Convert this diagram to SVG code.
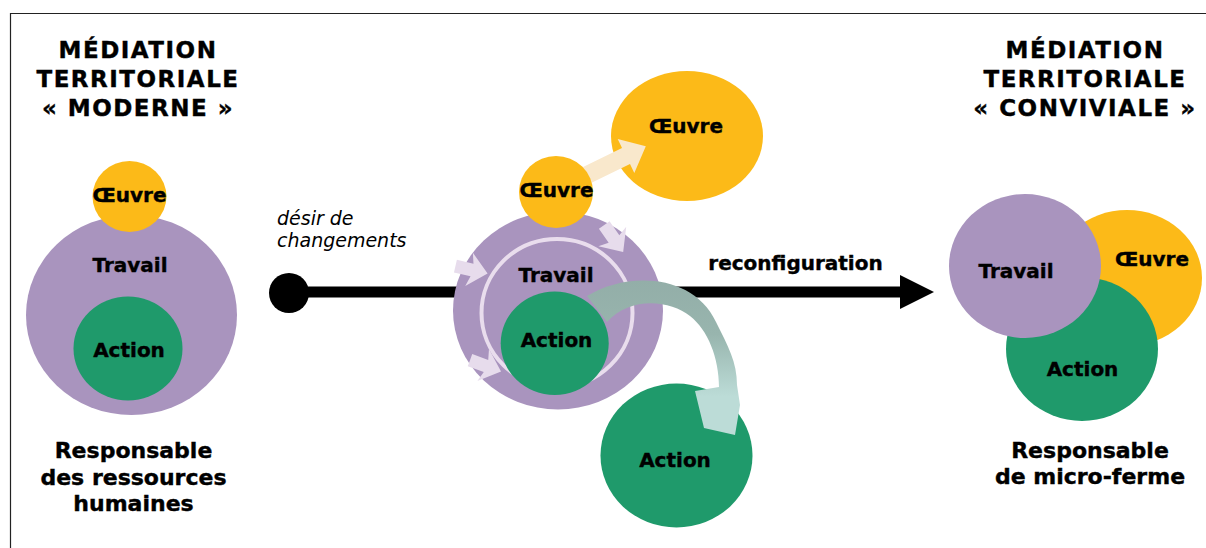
<svg xmlns="http://www.w3.org/2000/svg" width="1206" height="548" viewBox="0 0 1206 548">
<defs>
<style>
.t{font-family:"DejaVu Sans","Liberation Sans",sans-serif;font-weight:bold;fill:#000;stroke:#000;stroke-width:0.4px;text-anchor:middle}
.lbl{font-size:20px}
.ttl{font-size:23px;letter-spacing:1.5px}
.sub{font-size:22px}
.it{font-family:"DejaVu Sans","Liberation Sans",sans-serif;font-style:italic;font-size:19px;fill:#000}
.pur{fill:#a994be}
.yel{fill:#fcba18}
.grn{fill:#1f9a6b}
.pale{fill:#e7dcec}
</style>
<linearGradient id="teal" x1="0" y1="0" x2="0" y2="1">
<stop offset="0" stop-color="#93aea8"/>
<stop offset="0.35" stop-color="#98b5ae"/>
<stop offset="0.75" stop-color="#bcdcd7"/>
<stop offset="1" stop-color="#bcdcd7"/>
</linearGradient>
<path id="pa" d="M -17 -6.5 L 0 -6.5 L -3 -17 L 16 0 L -3 17 L 0 6.5 L -17 6.5 Z"/>
</defs>
<rect width="1206" height="548" fill="#fff"/>
<g id="frame" stroke="#222" stroke-width="1.2" fill="none">
<path d="M 10.5 548 L 10.5 13.5 L 1206 13.5"/>
</g>

<g id="connectors">
<circle cx="289" cy="293" r="20" fill="#000"/>
<rect x="289" y="286.5" width="613" height="11" fill="#000"/>
<polygon points="900,275 934,292 900,309" fill="#000"/>
</g>

<g id="title-left">
<text class="t ttl" x="138" y="58">MÉDIATION</text>
<text class="t ttl" x="138" y="87">TERRITORIALE</text>
<text class="t ttl" x="138" y="116">« MODERNE »</text>
</g>
<g id="title-right">
<text class="t ttl" x="1085" y="58">MÉDIATION</text>
<text class="t ttl" x="1085" y="87">TERRITORIALE</text>
<text class="t ttl" x="1085" y="116">« CONVIVIALE »</text>
</g>

<g id="left-travail">
<ellipse class="pur" cx="131.5" cy="315" rx="105.5" ry="100"/>
<text class="t lbl" x="130" y="272">Travail</text>
</g>
<g id="left-oeuvre">
<ellipse class="yel" cx="129.5" cy="196.5" rx="37" ry="35.5"/>
<text class="t lbl" x="129.5" y="201.5">Œuvre</text>
</g>
<g id="left-action">
<ellipse class="grn" cx="128" cy="348.5" rx="54.5" ry="52"/>
<text class="t lbl" x="129" y="357">Action</text>
</g>
<g id="left-caption">
<text class="t sub" x="133.5" y="458">Responsable</text>
<text class="t sub" x="133.5" y="485">des ressources</text>
<text class="t sub" x="133.5" y="511">humaines</text>
</g>

<g id="label-desir">
<text class="it" x="277" y="225">désir de</text>
<text class="it" x="277" y="247">changements</text>
</g>
<g id="label-reconfiguration">
<text class="t lbl" x="795.5" y="270">reconfiguration</text>
</g>

<g id="mid-oeuvre-big">
<ellipse class="yel" cx="687" cy="136" rx="76" ry="65"/>
<text class="t lbl" x="686" y="133">Œuvre</text>
</g>
<g id="mid-oeuvre-arrow">
<polygon fill="#f9e8cc" points="581,167.9 622,147.9 617.7,138.9 645.8,146.3 634.3,173.1 630,164.1 589,184.1"/>
</g>
<g id="mid-travail">
<ellipse class="pur" cx="558" cy="310.5" rx="105" ry="99"/>
<ellipse cx="557" cy="313" rx="75.5" ry="74" fill="none" stroke="#e9dded" stroke-width="4"/>
<use href="#pa" class="pale" transform="translate(472,270) rotate(13)"/>
<use href="#pa" class="pale" transform="translate(486,366) rotate(20)"/>
<use href="#pa" class="pale" transform="translate(614,239) rotate(55)"/>
<text class="t lbl" x="556" y="282">Travail</text>
</g>
<g id="mid-oeuvre-small">
<ellipse class="yel" cx="556" cy="192" rx="37" ry="36"/>
<text class="t lbl" x="556.5" y="197">Œuvre</text>
</g>
<g id="mid-action-inner">
<ellipse class="grn" cx="554.7" cy="343.3" rx="54" ry="51.7"/>
<text class="t lbl" x="556.5" y="347">Action</text>
</g>
<g id="mid-action-big">
<ellipse class="grn" cx="676.5" cy="455.5" rx="76" ry="72"/>
<text class="t lbl" x="675" y="467">Action</text>
</g>
<g id="mid-action-arrow">
<path fill="url(#teal)" d="M 587 296 C 625 272 693 272 716 322 C 728 346 737 362 737 385 L 740 405 L 735 435 L 704 428 L 695 391 L 719 387 C 719 358 708 330 690 316 C 670 300 630 296 607 322 Z"/>
</g>

<g id="right-oeuvre">
<ellipse class="yel" cx="1127" cy="278" rx="75" ry="68"/>
<text class="t lbl" x="1152" y="266">Œuvre</text>
</g>
<g id="right-action">
<ellipse class="grn" cx="1082" cy="349" rx="76" ry="72"/>
<text class="t lbl" x="1082.5" y="376">Action</text>
</g>
<g id="right-travail">
<ellipse class="pur" cx="1025" cy="266" rx="76" ry="72"/>
<text class="t lbl" x="1016" y="278">Travail</text>
</g>
<g id="right-caption">
<text class="t sub" x="1090" y="458">Responsable</text>
<text class="t sub" x="1090" y="484">de micro-ferme</text>
</g>
</svg>
